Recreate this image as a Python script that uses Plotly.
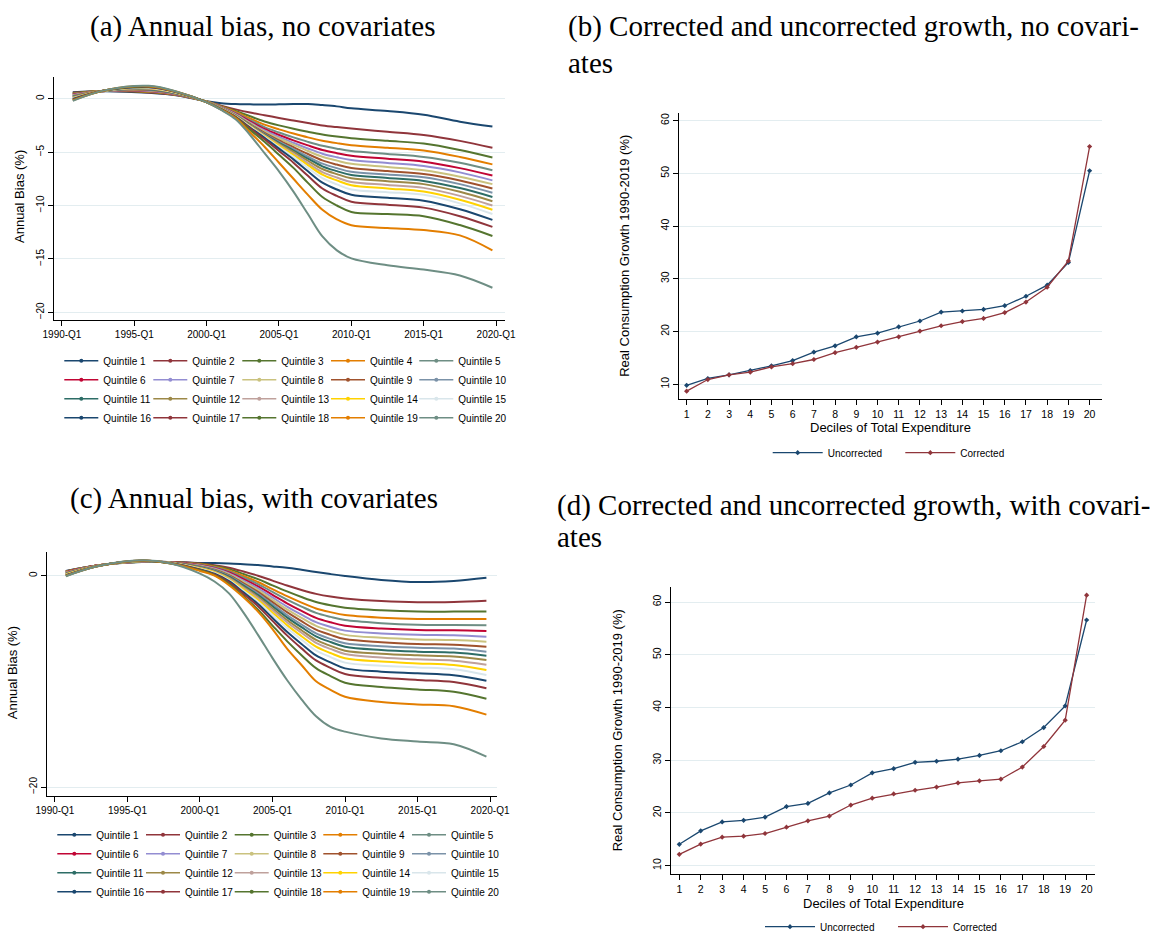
import plotly.graph_objects as go

# ---------------- data ----------------
# knots (year fractions) at which the annual bias curves were read
years = [1990.75, 1993, 1996, 1998, 2000, 2001, 2002, 2003, 2004, 2005, 2006, 2007,
         2008, 2009, 2010, 2012.5, 2015, 2017.5, 2019.75]
year_ticks = [1990, 1995, 2000, 2005, 2010, 2015, 2020]
year_tick_labels = ["1990-Q1", "1995-Q1", "2000-Q1", "2005-Q1", "2010-Q1", "2015-Q1", "2020-Q1"]
quintile_names = ["Quintile %d" % i for i in range(1, 21)]

bias_nocov = [
    [0.60, 0.70, 0.55, 0.30, -0.25, -0.42, -0.50, -0.53, -0.55, -0.53, -0.50, -0.50, -0.60, -0.72, -0.90, -1.15, -1.50, -2.15, -2.60],
    [0.56, 0.71, 0.58, 0.32, -0.26, -0.65, -1.00, -1.30, -1.55, -1.80, -2.05, -2.28, -2.50, -2.66, -2.80, -3.10, -3.40, -3.95, -4.60],
    [0.52, 0.71, 0.62, 0.34, -0.26, -0.70, -1.15, -1.65, -2.13, -2.50, -2.82, -3.10, -3.35, -3.54, -3.70, -3.95, -4.20, -4.80, -5.50],
    [0.47, 0.72, 0.65, 0.35, -0.27, -0.74, -1.25, -1.85, -2.43, -2.87, -3.26, -3.62, -3.93, -4.16, -4.35, -4.60, -4.85, -5.45, -6.15],
    [0.43, 0.72, 0.69, 0.37, -0.27, -0.77, -1.33, -2.01, -2.67, -3.17, -3.62, -4.04, -4.41, -4.68, -4.90, -5.17, -5.45, -6.00, -6.70],
    [0.39, 0.73, 0.72, 0.39, -0.28, -0.80, -1.40, -2.13, -2.84, -3.40, -3.90, -4.37, -4.80, -5.10, -5.35, -5.62, -5.90, -6.50, -7.20],
    [0.35, 0.73, 0.75, 0.41, -0.28, -0.82, -1.45, -2.23, -2.98, -3.58, -4.13, -4.66, -5.15, -5.48, -5.75, -6.02, -6.30, -6.90, -7.65],
    [0.31, 0.74, 0.79, 0.43, -0.29, -0.85, -1.50, -2.31, -3.08, -3.73, -4.32, -4.90, -5.44, -5.80, -6.10, -6.40, -6.70, -7.30, -8.00],
    [0.26, 0.74, 0.82, 0.44, -0.29, -0.86, -1.54, -2.39, -3.20, -3.90, -4.54, -5.18, -5.78, -6.17, -6.50, -6.78, -7.05, -7.65, -8.40],
    [0.22, 0.75, 0.86, 0.46, -0.30, -0.88, -1.57, -2.45, -3.29, -4.03, -4.72, -5.42, -6.08, -6.50, -6.85, -7.10, -7.35, -8.00, -8.80],
    [0.18, 0.75, 0.89, 0.48, -0.30, -0.90, -1.60, -2.49, -3.35, -4.13, -4.86, -5.62, -6.33, -6.78, -7.15, -7.42, -7.70, -8.37, -9.20],
    [0.14, 0.76, 0.92, 0.50, -0.30, -0.91, -1.62, -2.53, -3.40, -4.22, -4.99, -5.81, -6.58, -7.06, -7.45, -7.72, -8.00, -8.72, -9.60],
    [0.09, 0.76, 0.96, 0.52, -0.31, -0.92, -1.64, -2.57, -3.46, -4.32, -5.15, -6.04, -6.87, -7.38, -7.80, -8.07, -8.35, -9.10, -10.00],
    [0.05, 0.77, 0.99, 0.53, -0.31, -0.93, -1.66, -2.60, -3.50, -4.40, -5.27, -6.22, -7.11, -7.65, -8.10, -8.40, -8.70, -9.47, -10.40],
    [0.01, 0.77, 1.03, 0.55, -0.32, -0.95, -1.68, -2.64, -3.56, -4.52, -5.45, -6.48, -7.44, -8.02, -8.50, -8.75, -9.00, -9.80, -10.80],
    [-0.03, 0.78, 1.06, 0.57, -0.32, -0.96, -1.70, -2.70, -3.66, -4.68, -5.68, -6.80, -7.86, -8.50, -9.00, -9.27, -9.55, -10.35, -11.35],
    [-0.07, 0.78, 1.09, 0.59, -0.33, -0.98, -1.73, -2.78, -3.80, -4.90, -5.99, -7.22, -8.41, -9.10, -9.65, -9.92, -10.20, -11.00, -12.00],
    [-0.12, 0.79, 1.13, 0.61, -0.33, -1.00, -1.77, -2.92, -4.04, -5.25, -6.48, -7.88, -9.21, -10.00, -10.60, -10.80, -11.00, -11.83, -12.85],
    [-0.16, 0.79, 1.16, 0.62, -0.34, -1.02, -1.82, -3.15, -4.50, -6.00, -7.50, -9.00, -10.40, -11.30, -11.85, -12.10, -12.30, -12.80, -14.20],
    [-0.20, 0.80, 1.20, 0.64, -0.35, -1.05, -1.92, -3.40, -5.10, -6.80, -8.70, -10.80, -12.90, -14.20, -14.95, -15.60, -16.00, -16.55, -17.70],
]

bias_cov = [
    [0.45, 1.00, 1.30, 1.30, 1.20, 1.19, 1.15, 1.08, 1.00, 0.88, 0.75, 0.56, 0.35, 0.15, -0.03, -0.40, -0.60, -0.50, -0.20],
    [0.42, 1.00, 1.31, 1.29, 1.16, 1.00, 0.76, 0.40, 0.00, -0.47, -0.93, -1.35, -1.72, -1.98, -2.15, -2.40, -2.52, -2.48, -2.37],
    [0.40, 0.99, 1.32, 1.28, 1.12, 0.92, 0.62, 0.16, -0.33, -0.92, -1.49, -2.02, -2.49, -2.80, -3.03, -3.27, -3.40, -3.40, -3.38],
    [0.37, 0.99, 1.32, 1.28, 1.08, 0.85, 0.50, -0.03, -0.60, -1.28, -1.94, -2.55, -3.10, -3.45, -3.72, -3.97, -4.10, -4.10, -4.10],
    [0.34, 0.98, 1.33, 1.27, 1.04, 0.80, 0.41, -0.17, -0.79, -1.53, -2.26, -2.92, -3.52, -3.90, -4.20, -4.49, -4.64, -4.66, -4.70],
    [0.32, 0.98, 1.34, 1.26, 1.00, 0.74, 0.31, -0.33, -1.01, -1.81, -2.61, -3.33, -3.99, -4.41, -4.73, -5.00, -5.14, -5.17, -5.24],
    [0.29, 0.97, 1.35, 1.25, 0.96, 0.68, 0.22, -0.47, -1.20, -2.06, -2.92, -3.69, -4.40, -4.85, -5.20, -5.46, -5.60, -5.64, -5.77],
    [0.27, 0.97, 1.36, 1.24, 0.92, 0.62, 0.14, -0.59, -1.36, -2.28, -3.19, -4.00, -4.75, -5.22, -5.60, -5.88, -6.03, -6.09, -6.25],
    [0.24, 0.96, 1.36, 1.24, 0.88, 0.56, 0.05, -0.72, -1.53, -2.50, -3.45, -4.31, -5.11, -5.60, -6.00, -6.30, -6.47, -6.53, -6.72],
    [0.21, 0.96, 1.37, 1.23, 0.84, 0.51, -0.03, -0.84, -1.69, -2.71, -3.72, -4.62, -5.46, -5.98, -6.40, -6.67, -6.81, -6.90, -7.19],
    [0.19, 0.95, 1.38, 1.22, 0.80, 0.45, -0.10, -0.95, -1.83, -2.89, -3.94, -4.87, -5.74, -6.28, -6.72, -7.03, -7.19, -7.28, -7.57],
    [0.16, 0.95, 1.39, 1.21, 0.76, 0.40, -0.18, -1.07, -1.99, -3.10, -4.19, -5.16, -6.08, -6.64, -7.10, -7.39, -7.54, -7.65, -7.98],
    [0.13, 0.94, 1.40, 1.20, 0.72, 0.35, -0.26, -1.18, -2.13, -3.27, -4.40, -5.40, -6.35, -6.93, -7.41, -7.74, -7.92, -8.04, -8.42],
    [0.11, 0.94, 1.40, 1.20, 0.68, 0.30, -0.34, -1.30, -2.30, -3.50, -4.68, -5.73, -6.72, -7.32, -7.82, -8.13, -8.30, -8.46, -8.93],
    [0.08, 0.93, 1.41, 1.19, 0.64, 0.25, -0.42, -1.42, -2.46, -3.71, -4.95, -6.05, -7.08, -7.70, -8.23, -8.52, -8.68, -8.86, -9.40],
    [0.05, 0.93, 1.42, 1.18, 0.60, 0.18, -0.52, -1.58, -2.68, -4.00, -5.30, -6.46, -7.55, -8.21, -8.77, -9.08, -9.24, -9.42, -9.94],
    [0.03, 0.92, 1.43, 1.17, 0.56, 0.12, -0.62, -1.73, -2.89, -4.28, -5.65, -6.88, -8.02, -8.72, -9.30, -9.67, -9.87, -10.07, -10.66],
    [0.00, 0.92, 1.44, 1.16, 0.52, 0.05, -0.76, -1.95, -3.21, -4.72, -6.19, -7.52, -8.75, -9.50, -10.13, -10.54, -10.76, -10.98, -11.64],
    [-0.03, 0.91, 1.44, 1.16, 0.45, 0.00, -0.90, -2.05, -3.40, -5.05, -6.90, -8.45, -10.00, -10.80, -11.45, -11.95, -12.18, -12.35, -13.15],
    [-0.05, 0.91, 1.45, 1.15, 0.20, -0.55, -1.67, -3.50, -5.60, -7.80, -9.87, -11.70, -13.30, -14.30, -14.76, -15.40, -15.70, -15.95, -17.13],
]

deciles = list(range(1, 21))
growth_unc_nocov = [9.8, 11.1, 11.8, 12.6, 13.5, 14.5, 16.1, 17.3, 19.0, 19.7,
                    20.9, 22.0, 23.7, 23.9, 24.2, 24.9, 26.7, 28.8, 33.1, 50.5]
growth_cor_nocov = [8.7, 10.9, 11.8, 12.3, 13.3, 13.9, 14.7, 16.0, 17.0, 18.0,
                    19.0, 20.1, 21.1, 21.9, 22.5, 23.6, 25.6, 28.4, 33.4, 55.1]
growth_unc_cov = [14.05, 16.6, 18.3, 18.6, 19.2, 21.2, 21.8, 23.8, 25.3, 27.6,
                  28.4, 29.6, 29.8, 30.2, 30.9, 31.8, 33.5, 36.2, 40.3, 56.6]
growth_cor_cov = [12.15, 14.1, 15.4, 15.6, 16.1, 17.3, 18.5, 19.4, 21.5, 22.8,
                  23.6, 24.3, 24.9, 25.7, 26.1, 26.4, 28.7, 32.6, 37.6, 61.3]

# ---------------- style ----------------
W, H = 1170, 932
stata = ["#1a476f", "#90353b", "#55752f", "#e37e00", "#6e8e84",
         "#c10534", "#938dd2", "#cac27e", "#a0522d", "#7b92a8",
         "#2d6d66", "#9c8847", "#bfa19c", "#ffd200", "#d9e6eb"]
SANS = "Liberation Sans, Arial, sans-serif"
SERIF = "Liberation Serif, Times New Roman, serif"
GRID = "#e3edf0"


def dx(px):
    return px / W


def dy(py):
    return 1 - py / H


fig = go.Figure()

# panels a (no covariates) and c (with covariates); legends are 5 columns each
for data, xa, ya, legnames in [
    (bias_nocov, "x", "y", ["legend", "legend2", "legend3", "legend4", "legend5"]),
    (bias_cov, "x3", "y3", ["legend6", "legend7", "legend8", "legend9", "legend10"]),
]:
    for i, row in enumerate(data):
        col = stata[i % 15]
        fig.add_trace(go.Scatter(
            x=years, y=row, name=quintile_names[i], xaxis=xa, yaxis=ya,
            mode="lines", line=dict(color=col, width=2.0, shape="spline", smoothing=1.0),
            showlegend=False, hoverinfo="skip"))
    for i in range(len(data)):
        col = stata[i % 15]
        fig.add_trace(go.Scatter(
            x=[None], y=[None], name=quintile_names[i], xaxis=xa, yaxis=ya,
            mode="lines+markers", line=dict(color=col, width=1.6),
            marker=dict(color=col, size=4, symbol="circle"),
            legend=legnames[i % 5], showlegend=True, hoverinfo="skip"))

# panels b and d
for unc, cor, xa, ya, leg in [
    (growth_unc_nocov, growth_cor_nocov, "x2", "y2", "legend11"),
    (growth_unc_cov, growth_cor_cov, "x4", "y4", "legend12"),
]:
    fig.add_trace(go.Scatter(x=deciles, y=unc, name="Uncorrected", xaxis=xa, yaxis=ya,
                             mode="lines+markers", line=dict(color=stata[0], width=1.3),
                             marker=dict(color=stata[0], size=4, symbol="diamond"),
                             legend=leg, hoverinfo="skip"))
    fig.add_trace(go.Scatter(x=deciles, y=cor, name="Corrected", xaxis=xa, yaxis=ya,
                             mode="lines+markers", line=dict(color=stata[1], width=1.3),
                             marker=dict(color=stata[1], size=4, symbol="diamond"),
                             legend=leg, hoverinfo="skip"))

axis_common = dict(showline=True, linecolor="black", linewidth=1, ticks="outside",
                   ticklen=5, tickwidth=1, tickcolor="black", zeroline=False,
                   mirror=False, tickfont=dict(family=SANS, size=10, color="black"))
tick105 = dict(family=SANS, size=10.5, color="black")

layout = dict(
    width=W, height=H, margin=dict(l=0, r=0, t=0, b=0, autoexpand=False),
    paper_bgcolor="white", plot_bgcolor="white", showlegend=True,
    font=dict(family=SANS, color="black"),
    xaxis=dict(axis_common, domain=[dx(54), dx(505)], anchor="y", range=[1989.45, 2020.62],
               tickvals=year_ticks, ticktext=year_tick_labels, showgrid=False),
    yaxis=dict(axis_common, domain=[dy(320), dy(77)], anchor="x", range=[-20.72, 2.03],
               tickvals=[0, -5, -10, -15, -20], tickangle=-90, showgrid=True, gridcolor=GRID),
    xaxis2=dict(axis_common, domain=[dx(679), dx(1101.7)], anchor="y2", range=[0.64, 20.57],
                tickvals=deciles, showgrid=False, tickfont=tick105),
    yaxis2=dict(axis_common, domain=[dy(399.3), dy(113.3)], anchor="x2", range=[7.15, 61.4],
                tickvals=[10, 20, 30, 40, 50, 60], tickangle=-90, showgrid=True, gridcolor=GRID,
                tickfont=tick105),
    xaxis3=dict(axis_common, domain=[dx(46.7), dx(497.3)], anchor="y3", range=[1989.43, 2020.5],
                tickvals=year_ticks, ticktext=year_tick_labels, showgrid=False),
    yaxis3=dict(axis_common, domain=[dy(796), dy(551.7)], anchor="x3", range=[-20.85, 2.27],
                tickvals=[0, -20], tickangle=-90, showgrid=True, gridcolor=GRID),
    xaxis4=dict(axis_common, domain=[dx(671.3), dx(1095)], anchor="y4", range=[0.627, 20.39],
                tickvals=deciles, showgrid=False, tickfont=tick105),
    yaxis4=dict(axis_common, domain=[dy(874.3), dy(587.3)], anchor="x4", range=[8.36, 62.8],
                tickvals=[10, 20, 30, 40, 50, 60], tickangle=-90, showgrid=True, gridcolor=GRID,
                tickfont=tick105),
)


def vleg(line_x, row1_y, itemwidth):
    return dict(orientation="v", x=dx(line_x - 5), xanchor="left", y=dy(row1_y - 14.5),
                yanchor="top", font=dict(family=SANS, size=10, color="black"),
                itemwidth=itemwidth, bgcolor="rgba(0,0,0,0)", borderwidth=0,
                traceorder="normal", tracegroupgap=0, itemclick=False, itemdoubleclick=False)


def hleg(line_x, y_px, itemwidth, entrywidth):
    return dict(orientation="h", x=dx(line_x - 5), xanchor="left", y=dy(y_px), yanchor="middle",
                font=dict(family=SANS, size=10, color="black"), itemwidth=itemwidth,
                entrywidth=entrywidth, entrywidthmode="pixels", bgcolor="rgba(0,0,0,0)",
                borderwidth=0, traceorder="normal", itemclick=False, itemdoubleclick=False)


cols_a = [64.3, 153.3, 242.3, 331.0, 419.3]
cols_c = [57.3, 146.0, 234.7, 323.3, 412.0]
for j in range(5):
    layout["legend" if j == 0 else "legend%d" % (j + 1)] = vleg(cols_a[j], 360.7, 34)
    layout["legend%d" % (j + 6)] = vleg(cols_c[j], 834.7, 34)
layout["legend11"] = hleg(772.7, 452.7, 50, 67.6)
layout["legend12"] = hleg(765.0, 926.7, 50, 68.0)

fig.update_layout(**layout)


def text(s, x, y, size, family, xanchor="center", angle=0):
    fig.add_annotation(text=s, x=dx(x), y=dy(y), xref="paper", yref="paper",
                       xanchor=xanchor, yanchor="middle", showarrow=False, textangle=angle,
                       font=dict(family=family, size=size, color="black"))


# panel titles
text("(a) Annual bias, no covariates", 262, 27, 29, SERIF)
text("(b) Corrected and uncorrected growth, no covari-", 566, 26, 29, SERIF, xanchor="left")
text("ates", 566, 63, 29, SERIF, xanchor="left")
text("(c) Annual bias, with covariates", 254, 498, 29, SERIF)
text("(d) Corrected and uncorrected growth, with covari-", 555, 505, 29, SERIF, xanchor="left")
text("ates", 555, 537, 29, SERIF, xanchor="left")

# axis titles
text("Annual Bias (%)", 19, 197, 13, SANS, angle=-90)
text("Annual Bias (%)", 12.7, 672.5, 13, SANS, angle=-90)
text("Real Consumption Growth 1990-2019 (%)", 624.3, 255.5, 13, SANS, angle=-90)
text("Deciles of Total Expenditure", 890.3, 427, 13, SANS)
text("Real Consumption Growth 1990-2019 (%)", 617.5, 730.8, 13, SANS, angle=-90)
text("Deciles of Total Expenditure", 883, 903, 13, SANS)

fig.write_html("out.html", config={"displayModeBar": False},
               post_script="document.body.style.margin='0px';document.body.style.overflow='hidden';")
